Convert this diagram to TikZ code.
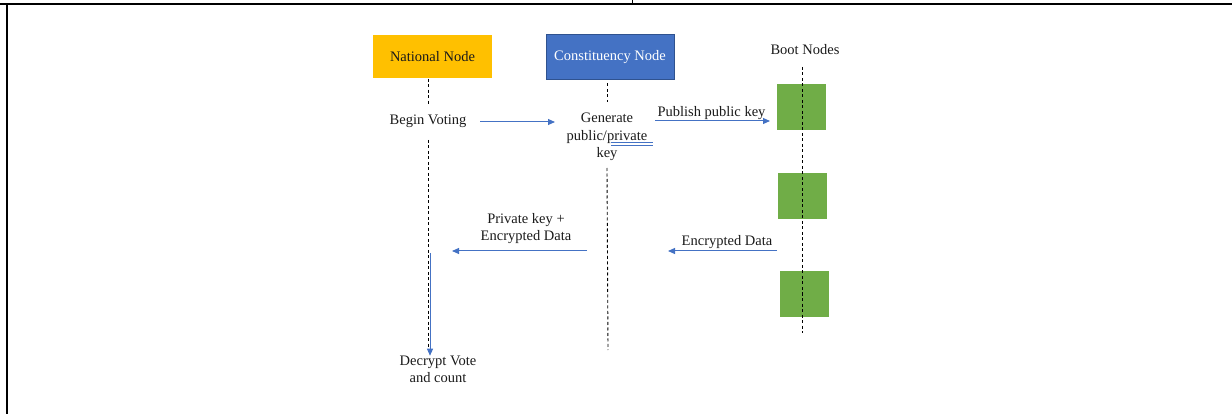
\documentclass[tikz,border=0pt]{standalone}
\usepackage{fontspec}
\setmainfont{Liberation Serif}
\usetikzlibrary{arrows.meta}
\definecolor{natorange}{HTML}{FFC000}
\definecolor{conblue}{HTML}{4472C4}
\definecolor{conborder}{HTML}{2F528F}
\definecolor{bootgreen}{HTML}{70AD47}
\definecolor{msgblue}{HTML}{4472C4}
\definecolor{txt}{HTML}{1A1A1A}
\begin{document}
\begin{tikzpicture}[x=1pt,y=-1pt,
  lbl/.style={font=\fontsize{14.5}{17.5}\selectfont, text=txt, align=center, inner sep=0pt},
  actor/.style={lbl, minimum height=43pt, inner sep=0pt},
  life/.style={black, line width=0.9pt, dash pattern=on 3pt off 2.5pt},
  msg/.style={msgblue, line width=1pt, -{Triangle[length=7pt,width=6pt]}},
  bootbox/.style={fill=bootgreen, draw=none, minimum width=49pt, minimum height=46pt, inner sep=0pt},
  frameline/.style={black, line width=2.2pt}]
\useasboundingbox (0,0) rectangle (1232,414);
% frame
\draw[frameline] (0,4) -- (1232,4);
\draw[frameline] (7,4) -- (7,414);
\draw[black, line width=1pt] (632,0) -- (632,4);

% actors
\node[actor, fill=natorange, minimum width=119pt] (nat) at (432.5,57) {National Node};
\node[actor, fill=conblue, draw=conborder, line width=1pt, text=white, minimum width=128pt, minimum height=45pt] (con) at (610,57.5) {Constituency Node};
\node[lbl] (boot) at (805,50) {Boot Nodes};

% boot node boxes
\node[bootbox] (b1) at (801.5,107.5) {};
\node[bootbox] (b2) at (802.5,196) {};
\node[bootbox] (b3) at (804.5,294) {};

% labels
\node[lbl] (bv) at (428,121) {Begin Voting};
\node[lbl, align=center] (gen) at (607,137) {Generate\\public/private\\key};
\node[lbl] (pub) at (711.5,113) {Publish public key};
\node[lbl] (pk) at (526,228.5) {Private key +\\Encrypted Data};
\node[lbl] (enc) at (727,242) {Encrypted Data};
\node[lbl] (dec) at (438,369.5) {Decrypt Vote\\and count};

% lifeline coordinates
\coordinate (natA) at (428,106);
\coordinate (natB) at (428,140);
\coordinate (natEnd) at (428,347);
\coordinate (conA) at (607,102);
\coordinate (conB) at (607,168);
\coordinate (conEnd) at (608,350);
\coordinate (bootA) at (802,67);
\coordinate (bootEnd) at (802,333);

\draw[life] (natA |- nat.south) -- (natA);
\draw[life] (natB) -- (natEnd);
\draw[life] ([yshift=-3pt]conA |- con.south) -- (conA);
\draw[life] (conB) -- (conEnd);
\draw[life] (bootA) -- (bootEnd);

% messages
\coordinate (m1s) at (480,122);
\coordinate (m1e) at (555,122);
\draw[msg] (m1s) -- (m1e);

\coordinate (m2s) at (655,121);
\coordinate (m2e) at (770,121);
\draw[msg] (m2s) -- (m2e);

\coordinate (m3s) at (587,251);
\coordinate (m3e) at (452,251);
\draw[msg] (m3s) -- (m3e);

\coordinate (m4s) at (777,251);
\coordinate (m4e) at (668,251);
\draw[msg] (m4s) -- (m4e);

\coordinate (m5s) at (430,253);
\draw[msg] (m5s) -- (dec.north -| m5s);

% blue double underline under "private"
\draw[msgblue, line width=0.6pt] (611,142.5) -- (653,142.5);
\draw[msgblue, line width=0.6pt] (611,145) -- (653,145);
\end{tikzpicture}
\end{document}
